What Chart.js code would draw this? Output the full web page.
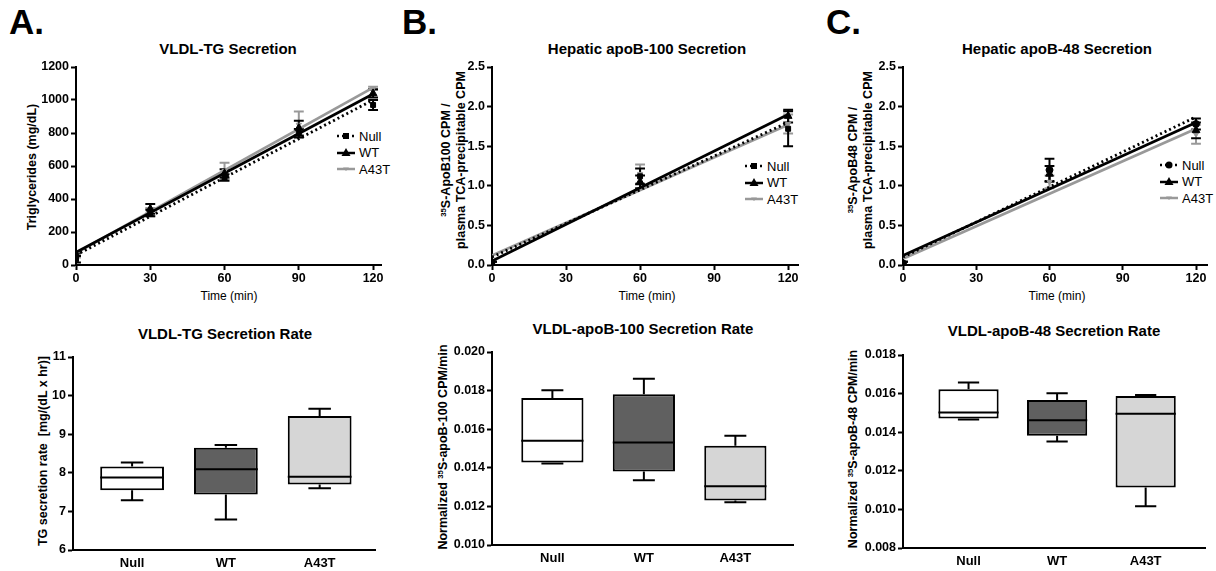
<!DOCTYPE html>
<html>
<head>
<title>VLDL secretion</title>
<script src="https://cdn.jsdelivr.net/npm/chart.js"></script>
<style>
  body { margin: 0; width: 1216px; height: 571px; background: #fff; position: relative; overflow: hidden;
         font-family: "Liberation Sans", Arial, sans-serif; color: #000; }
  .plot { position: absolute; }
  .txt { position: absolute; white-space: nowrap; }
  .letter { font-size: 35px; font-weight: bold; line-height: 35px; }
  .title { font-size: 15px; font-weight: bold; transform: translate(-50%, -50%); }
  .xlab { font-size: 12px; transform: translate(-50%, -50%); }
  .ylab { font-size: 12.5px; font-weight: bold; transform: translate(-50%, -50%) rotate(-90deg); text-align: center; line-height: 15px; }
  .legend { position: absolute; font-size: 13px; }
  .legend div { height: 16.5px; display: flex; align-items: center; }
  .legend svg { margin-right: 4px; }
  sup { font-size: 0.62em; vertical-align: 0.5em; line-height: 0; }
</style>
</head>
<body>
  <div class="txt letter" style="left:9px;top:4px">A.</div>
  <div class="txt letter" style="left:402px;top:4px">B.</div>
  <div class="txt letter" style="left:826px;top:4px">C.</div>

  <div class="txt title" style="left:228px;top:48px">VLDL-TG Secretion</div>
  <div class="txt title" style="left:647px;top:48px">Hepatic apoB-100 Secretion</div>
  <div class="txt title" style="left:1057px;top:48px">Hepatic apoB-48 Secretion</div>

  <div class="txt xlab" style="left:229px;top:296px">Time (min)</div>
  <div class="txt xlab" style="left:647px;top:296px">Time (min)</div>
  <div class="txt xlab" style="left:1057px;top:296px">Time (min)</div>

  <div class="txt title" style="left:225px;top:333px">VLDL-TG Secretion Rate</div>
  <div class="txt title" style="left:643px;top:328px">VLDL-apoB-100 Secretion Rate</div>
  <div class="txt title" style="left:1054px;top:330px">VLDL-apoB-48 Secretion Rate</div>

  <div class="txt ylab" style="left:32px;top:167px">Triglycerides (mg/dL)</div>
  <div class="txt ylab" style="left:454px;top:160px"><sup>35</sup>S-ApoB100 CPM /<br>plasma TCA-precipitable CPM</div>
  <div class="txt ylab" style="left:861px;top:160px"><sup>35</sup>S-ApoB48 CPM /<br>plasma TCA-precipitable CPM</div>
  <div class="txt ylab" style="left:43px;top:451px">TG secretion rate &nbsp;[mg/(dL x hr)]</div>
  <div class="txt ylab" style="left:443px;top:447px">Normalized <sup>35</sup>S-apoB-100 CPM/min</div>
  <div class="txt ylab" style="left:853px;top:449px">Normalized <sup>35</sup>S-apoB-48 CPM/min</div>

  <div class="legend" id="legA" style="left:337px;top:128px"></div>
  <div class="legend" id="legB" style="left:745px;top:158px"></div>
  <div class="legend" id="legC" style="left:1160px;top:157px"></div>

  <div class="plot" id="tgTimeBox"><canvas id="tgTime"></canvas></div>
  <div class="plot" id="b100TimeBox"><canvas id="b100Time"></canvas></div>
  <div class="plot" id="b48TimeBox"><canvas id="b48Time"></canvas></div>
  <div class="plot" id="tgRateBox"><canvas id="tgRate"></canvas></div>
  <div class="plot" id="b100RateBox"><canvas id="b100Rate"></canvas></div>
  <div class="plot" id="b48RateBox"><canvas id="b48Rate"></canvas></div>

<script>
const groups = ['Null', 'WT', 'A43T'];
const boxFills = ['#ffffff', '#606060', '#d6d6d6'];

// VLDL-TG time course, mg/dL (mean, SEM)
const tgTimes = [0, 30, 60, 90, 120];
const tgNullMean = [35, 315, 530, 800, 970];
const tgNullSem = [20, 20, 20, 25, 30];
const tgWtMean = [65, 340, 555, 830, 1040];
const tgWtSem = [10, 30, 25, 45, 25];
const tgA43tMean = [55, 320, 570, 850, 1070];
const tgA43tSem = [10, 25, 50, 80, 10];
// linear fits, value at t = 0 and t = 120
const fitTimes = [0, 120];
const tgNullFit = [60, 1000];
const tgWtFit = [77, 1037];
const tgA43tFit = [72, 1075];

// apoB-100 time course, normalized CPM
const apoTimes = [0, 60, 120];
const b100NullMean = [0.02, 1.12, 1.72];
const b100NullSem = [0.02, 0.10, 0.22];
const b100WtMean = [0.02, 1.05, 1.88];
const b100WtSem = [0.02, 0.08, 0.08];
const b100A43tMean = [0.02, 1.15, 1.78];
const b100A43tSem = [0.02, 0.12, 0.12];
const b100NullFit = [0.10, 1.80];
const b100WtFit = [0.05, 1.90];
const b100A43tFit = [0.12, 1.77];

// apoB-48 time course, normalized CPM
const b48NullMean = [0.02, 1.20, 1.78];
const b48NullSem = [0.02, 0.14, 0.07];
const b48WtMean = [0.02, 1.15, 1.70];
const b48WtSem = [0.02, 0.10, 0.10];
const b48A43tMean = [0.02, 1.05, 1.65];
const b48A43tSem = [0.02, 0.08, 0.12];
const b48NullFit = [0.10, 1.87];
const b48WtFit = [0.12, 1.80];
const b48A43tFit = [0.08, 1.72];

// secretion rates, box = min / Q1 / median / Q3 / max per group
const tgRateMin = [7.29, 6.79, 7.60];
const tgRateQ1 = [7.55, 7.44, 7.70];
const tgRateMed = [7.88, 8.09, 7.90];
const tgRateQ3 = [8.16, 8.65, 9.47];
const tgRateMax = [8.27, 8.72, 9.66];

const b100RateMin = [0.01422, 0.01336, 0.01222];
const b100RateQ1 = [0.01428, 0.01381, 0.01231];
const b100RateMed = [0.01540, 0.01531, 0.01305];
const b100RateQ3 = [0.01762, 0.01781, 0.01514];
const b100RateMax = [0.01802, 0.01862, 0.01566];

const b48RateMin = [0.01466, 0.01352, 0.01016];
const b48RateQ1 = [0.01471, 0.01381, 0.01114];
const b48RateMed = [0.01502, 0.01462, 0.01495];
const b48RateQ3 = [0.01622, 0.01567, 0.01588];
const b48RateMax = [0.01657, 0.01602, 0.01593];

Chart.defaults.color = '#000';
Chart.defaults.font.family = '"Liberation Sans", Arial, sans-serif';
Chart.defaults.animation = false;

const Y_W = 56, X_H = 30, PAD_T = 10, PAD_R = 12;

function place(id, f) {
  const el = document.getElementById(id);
  const left = f.left - Y_W, top = f.top - PAD_T;
  el.style.left = left + 'px';
  el.style.top = top + 'px';
  el.style.width = (f.right + PAD_R - left) + 'px';
  el.style.height = (f.bottom + X_H - top) + 'px';
}

function axisStyle() {
  return {
    grid: { display: true, drawOnChartArea: false, drawTicks: true, tickLength: 5, tickWidth: 2, tickColor: '#000' },
    border: { display: true, color: '#000', width: 2 }
  };
}

// segments with null breaks for mean +/- SEM bars and their caps
function errorBars(times, means, sems, half) {
  const pts = [];
  times.forEach((t, i) => {
    const lo = means[i] - sems[i], hi = means[i] + sems[i];
    pts.push({ x: t, y: lo }, { x: t, y: hi }, { x: t, y: null },
             { x: t - half, y: hi }, { x: t + half, y: hi }, { x: t, y: null },
             { x: t - half, y: lo }, { x: t + half, y: lo }, { x: t, y: null });
  });
  return pts;
}

function xy(xs, ys) {
  return xs.map((x, i) => ({ x, y: ys[i] }));
}

function timeChart(id, frame, c) {
  place(id + 'Box', frame);
  const pointSet = (data, style, radius, color, rotation) => ({
    data, showLine: false, pointStyle: style, pointRadius: radius, pointRotation: rotation || 0,
    pointBackgroundColor: color, pointBorderColor: color, pointBorderWidth: 1
  });
  const lineSet = (data, color, dash) => ({
    data, borderColor: color, borderWidth: 2.8, borderDash: dash || [], pointRadius: 0
  });
  const barSet = (data, color) => ({
    data, borderColor: color, borderWidth: 2, pointRadius: 0, spanGaps: false
  });
  new Chart(document.getElementById(id), {
    type: 'line',
    data: {
      datasets: [
        pointSet(xy(c.t, c.nullMean), c.nullMarker, 3.5, '#000'),
        pointSet(xy(c.t, c.wtMean), 'triangle', 4.5, '#000'),
        pointSet(xy(c.t, c.a43tMean), 'triangle', 3, '#999', 180),
        lineSet(xy(fitTimes, c.nullFit), '#000', [2, 3]),
        lineSet(xy(fitTimes, c.wtFit), '#000'),
        lineSet(xy(fitTimes, c.a43tFit), '#999'),
        barSet(errorBars(c.t, c.nullMean, c.nullSem, 2), '#000'),
        barSet(errorBars(c.t, c.wtMean, c.wtSem, 2), '#000'),
        barSet(errorBars(c.t, c.a43tMean, c.a43tSem, 2), '#999')
      ]
    },
    options: {
      responsive: true,
      maintainAspectRatio: false,
      layout: { padding: { top: PAD_T, right: PAD_R, left: 0, bottom: 0 } },
      plugins: { legend: { display: false }, tooltip: { enabled: false } },
      scales: {
        x: Object.assign(axisStyle(), {
          type: 'linear', min: 0, max: c.xMax,
          ticks: { stepSize: 30, includeBounds: false, padding: 1, font: { size: 12.5, weight: 'bold' } },
          afterFit: s => { s.height = X_H; }
        }),
        y: Object.assign(axisStyle(), {
          min: 0, max: c.yMax,
          ticks: { stepSize: c.yStep, padding: 2, font: { size: 12.5, weight: 'bold' },
                   callback: v => v.toFixed(c.digits) },
          afterFit: s => { s.width = Y_W; }
        })
      }
    }
  });
}

const CAP = 0.12, BOX_HALF = 0.34;

function boxChart(id, frame, c) {
  place(id + 'Box', frame);
  const whiskers = [], medians = [];
  groups.forEach((g, i) => {
    const x = i + 1;
    whiskers.push({ x, y: c.q3[i] }, { x, y: c.max[i] }, { x, y: null },
                  { x: x - CAP, y: c.max[i] }, { x: x + CAP, y: c.max[i] }, { x, y: null },
                  { x, y: c.q1[i] }, { x, y: c.min[i] }, { x, y: null },
                  { x: x - CAP, y: c.min[i] }, { x: x + CAP, y: c.min[i] }, { x, y: null });
    medians.push({ x: x - BOX_HALF, y: c.med[i] }, { x: x + BOX_HALF, y: c.med[i] }, { x, y: null });
  });
  new Chart(document.getElementById(id), {
    type: 'bar',
    data: {
      datasets: [
        { type: 'line', data: medians, borderColor: '#000', borderWidth: 2, pointRadius: 0, spanGaps: false },
        { type: 'line', data: whiskers, borderColor: '#000', borderWidth: 2, pointRadius: 0, spanGaps: false },
        { type: 'bar', data: groups.map((g, i) => ({ x: i + 1, y: [c.q1[i], c.q3[i]] })),
          backgroundColor: boxFills, borderColor: '#000', borderWidth: 2, borderSkipped: false,
          barPercentage: BOX_HALF * 2, categoryPercentage: 1 }
      ]
    },
    options: {
      responsive: true,
      maintainAspectRatio: false,
      layout: { padding: { top: PAD_T, right: PAD_R, left: 0, bottom: 0 } },
      plugins: { legend: { display: false }, tooltip: { enabled: false } },
      scales: {
        x: {
          type: 'linear', min: c.xMin, max: c.xMax, offset: false,
          grid: { display: true, offset: false, drawOnChartArea: false, drawTicks: true, tickLength: 0 },
          border: { display: true, color: '#000', width: 2 },
          afterBuildTicks: s => { s.ticks = groups.map((g, i) => ({ value: i + 1 })); },
          ticks: { padding: 6, font: { size: 13, weight: 'bold' }, callback: v => groups[v - 1] },
          afterFit: s => { s.height = X_H; }
        },
        y: Object.assign(axisStyle(), {
          min: c.yMin, max: c.yMax,
          ticks: { stepSize: c.yStep, padding: 2, font: { size: 12.5, weight: 'bold' },
                   callback: v => v.toFixed(c.digits) },
          afterFit: s => { s.width = Y_W; }
        })
      }
    }
  });
}

timeChart('tgTime', { left: 76, top: 67, bottom: 265, right: 381 }, {
  t: tgTimes, nullMean: tgNullMean, nullSem: tgNullSem, wtMean: tgWtMean, wtSem: tgWtSem,
  a43tMean: tgA43tMean, a43tSem: tgA43tSem, nullFit: tgNullFit, wtFit: tgWtFit, a43tFit: tgA43tFit,
  nullMarker: 'rect', xMax: 123.2, yMax: 1200, yStep: 200, digits: 0
});
timeChart('b100Time', { left: 492, top: 67, bottom: 265, right: 798 }, {
  t: apoTimes, nullMean: b100NullMean, nullSem: b100NullSem, wtMean: b100WtMean, wtSem: b100WtSem,
  a43tMean: b100A43tMean, a43tSem: b100A43tSem, nullFit: b100NullFit, wtFit: b100WtFit, a43tFit: b100A43tFit,
  nullMarker: 'rect', xMax: 124, yMax: 2.5, yStep: 0.5, digits: 1
});
timeChart('b48Time', { left: 903, top: 67, bottom: 265, right: 1207 }, {
  t: apoTimes, nullMean: b48NullMean, nullSem: b48NullSem, wtMean: b48WtMean, wtSem: b48WtSem,
  a43tMean: b48A43tMean, a43tSem: b48A43tSem, nullFit: b48NullFit, wtFit: b48WtFit, a43tFit: b48A43tFit,
  nullMarker: 'circle', xMax: 124.5, yMax: 2.5, yStep: 0.5, digits: 1
});

boxChart('tgRate', { left: 73, top: 357, bottom: 550, right: 375 }, {
  min: tgRateMin, q1: tgRateQ1, med: tgRateMed, q3: tgRateQ3, max: tgRateMax,
  yMin: 6, yMax: 11, yStep: 1, digits: 0, xMin: 0.37, xMax: 3.59
});
boxChart('b100Rate', { left: 492, top: 352, bottom: 545, right: 793 }, {
  min: b100RateMin, q1: b100RateQ1, med: b100RateMed, q3: b100RateQ3, max: b100RateMax,
  yMin: 0.010, yMax: 0.020, yStep: 0.002, digits: 3, xMin: 0.34, xMax: 3.63
});
boxChart('b48Rate', { left: 903, top: 355, bottom: 548, right: 1205 }, {
  min: b48RateMin, q1: b48RateQ1, med: b48RateMed, q3: b48RateQ3, max: b48RateMax,
  yMin: 0.008, yMax: 0.018, yStep: 0.002, digits: 3, xMin: 0.26, xMax: 3.67
});

// legend rows: line sample with marker, then label
function marker(kind) {
  if (kind === 'rect') return '<rect x="6" y="2" width="6" height="6" fill="#000"/>';
  if (kind === 'circle') return '<circle cx="9" cy="5" r="3.5" fill="#000"/>';
  if (kind === 'triangle') return '<polygon points="9,0 13.5,8 4.5,8" fill="#000"/>';
  return '<polygon points="6,3.5 12,3.5 9,7" fill="#999"/>';
}
function legendRow(label, color, dash, kind) {
  return '<div><svg width="18" height="10"><line x1="0" y1="5" x2="18" y2="5" stroke="' + color +
    '" stroke-width="2.5"' + (dash ? ' stroke-dasharray="2,3"' : '') + '/>' + marker(kind) + '</svg>' + label + '</div>';
}
function legend(id, nullKind) {
  document.getElementById(id).innerHTML =
    legendRow(groups[0], '#000', true, nullKind) +
    legendRow(groups[1], '#000', false, 'triangle') +
    legendRow(groups[2], '#999', false, 'gray');
}
legend('legA', 'rect');
legend('legB', 'rect');
legend('legC', 'circle');
</script>
</body>
</html>
